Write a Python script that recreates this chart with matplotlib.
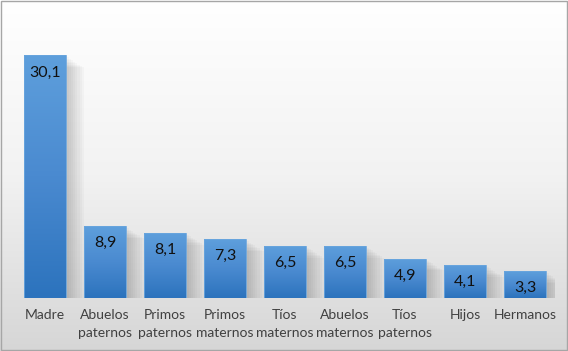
import numpy as np
import matplotlib.pyplot as plt
from matplotlib.colors import LinearSegmentedColormap
from matplotlib.patches import Rectangle

categorias = ['Madre', 'Abuelos\npaternos', 'Primos\npaternos', 'Primos\nmaternos',
              'Tíos\nmaternos', 'Abuelos\nmaternos', 'Tíos\npaternos', 'Hijos', 'Hermanos']
valores = [30.1, 8.9, 8.1, 7.3, 6.5, 6.5, 4.9, 4.1, 3.3]
etiquetas = ['30,1', '8,9', '8,1', '7,3', '6,5', '6,5', '4,9', '4,1', '3,3']

plt.rcParams['font.family'] = ['Lato', 'DejaVu Sans']

fig = plt.figure(figsize=(5.68, 3.51), dpi=100)

# fondo degradado
bg = fig.add_axes([0, 0, 1, 1])
bg.set_axis_off()
grad = np.linspace(0, 1, 256).reshape(-1, 1)
bg_cmap = LinearSegmentedColormap.from_list('bg', ['#d6d6d6', '#f2f2f2', '#ffffff'])
bg.imshow(grad, aspect='auto', cmap=bg_cmap, origin='lower', extent=[0, 1, 0, 1])
bg.add_patch(Rectangle((0.001, 0.002), 0.997, 0.995, fill=False, edgecolor='#a6a6a6',
                       lw=1, transform=bg.transAxes))
bg.set_xlim(0, 1)
bg.set_ylim(0, 1)

ax = fig.add_axes([15 / 568, 53 / 351, 540 / 568, 282 / 351])
ax.patch.set_alpha(0)
x = np.arange(len(valores))
ancho = 0.7

# sombras
for xi, v in zip(x, valores):
    for k in range(8):
        off = 0.05 + k * 0.035
        ax.add_patch(Rectangle((xi - ancho / 2 + off, 0), ancho, max(v - off * 5, 0),
                               facecolor='#000000', alpha=0.022, lw=0, zorder=1))

bar_cmap = LinearSegmentedColormap.from_list('bar', ['#2c73bd', '#4a8ad0', '#5e9fdc'])
barras = ax.bar(x, valores, width=ancho, color='none', edgecolor='#6aa6de', lw=0.6, zorder=3)
for b in barras:
    img = ax.imshow(grad, aspect='auto', cmap=bar_cmap, origin='lower',
                    extent=[b.get_x(), b.get_x() + b.get_width(), 0, b.get_height()], zorder=2)
    img.set_clip_path(b)

for xi, v, t in zip(x, valores, etiquetas):
    ax.text(xi, v - 2.1, t, ha='center', va='center', fontsize=11.5, color='#111111', zorder=4)

ax.set_xlim(-0.5, len(valores) - 0.5)
ax.set_ylim(0, 35)
ax.set_xticks(x)
ax.set_xticklabels(categorias, fontsize=10, color='#404040', linespacing=1.55)
ax.tick_params(axis='x', length=0, pad=8)
ax.set_yticks([])
for s in ax.spines.values():
    s.set_visible(False)

fig.savefig('out.png', dpi=100)
